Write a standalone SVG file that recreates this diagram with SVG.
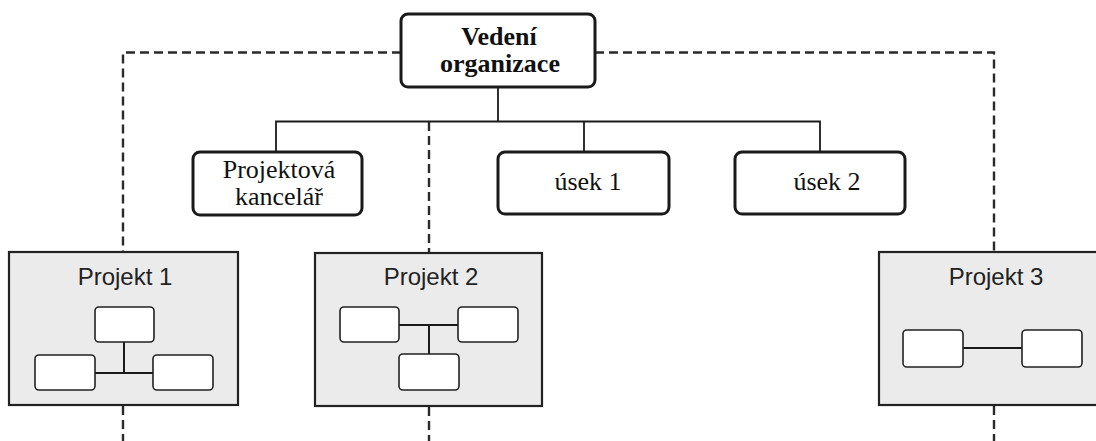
<svg xmlns="http://www.w3.org/2000/svg" width="1096" height="441" viewBox="0 0 1096 441">
  <style>
    .unit { fill: #ffffff; stroke: #1a1a1a; stroke-width: 3; }
    .proj { fill: #ebebeb; stroke: #222222; stroke-width: 2.2; }
    .mini { fill: #ffffff; stroke: #222222; stroke-width: 1.6; }
    .link { fill: none; stroke: #1a1a1a; stroke-width: 1.8; }
    .minilink { fill: none; stroke: #1a1a1a; stroke-width: 2; }
    .dash { fill: none; stroke: #2a2a2a; stroke-width: 2.4; stroke-dasharray: 9 5; }
    .serif { font-family: "Liberation Serif", "Times New Roman", serif; font-size: 26px; fill: #111111; text-anchor: middle; }
    .bold { font-weight: bold; }
    .sans { font-family: "Liberation Sans", Arial, sans-serif; font-size: 24px; fill: #222222; text-anchor: middle; }
  </style>

  <!-- connectors -->
  <g id="connectors">
    <!-- project coordination lines (dashed) -->
    <path class="dash" d="M401 52.5 H123 V252"/>
    <path class="dash" d="M595 52.5 H994 V252"/>
    <path class="dash" d="M429 122 V253"/>
    <path class="dash" d="M123 406 V441"/>
    <path class="dash" d="M429 407 V441"/>
    <path class="dash" d="M994 406 V441"/>
    <!-- line organisation -->
    <path class="link" d="M498 87 V121.5"/>
    <path class="link" d="M276 152 V121.5 H820 V152"/>
    <path class="link" d="M584 121.5 V152"/>
  </g>

  <g id="vedeni">
    <rect class="unit" x="401" y="14" width="194" height="73" rx="7"/>
    <text class="serif bold" x="499" y="45">Vedení</text>
    <text class="serif bold" x="500" y="72">organizace</text>
  </g>

  <g id="kancelar">
    <rect class="unit" x="193" y="152" width="169" height="63" rx="7"/>
    <text class="serif" x="279" y="178">Projektová</text>
    <text class="serif" x="279" y="205">kancelář</text>
  </g>

  <g id="usek1">
    <rect class="unit" x="498" y="152" width="171" height="62" rx="7"/>
    <text class="serif" x="588" y="190">úsek 1</text>
  </g>

  <g id="usek2">
    <rect class="unit" x="735" y="152" width="170" height="62" rx="7"/>
    <text class="serif" x="827" y="190">úsek 2</text>
  </g>

  <g id="projekt1">
    <rect class="proj" x="9" y="252" width="229" height="153"/>
    <text class="sans" x="125" y="285">Projekt 1</text>
    <path class="minilink" d="M124 342 V373 M95 373 H153"/>
    <rect class="mini" x="95" y="307" width="59" height="35" rx="4"/>
    <rect class="mini" x="35" y="355" width="60" height="35" rx="4"/>
    <rect class="mini" x="153" y="355" width="60" height="35" rx="4"/>
  </g>

  <g id="projekt2">
    <rect class="proj" x="315" y="253" width="227" height="153"/>
    <text class="sans" x="431" y="285">Projekt 2</text>
    <path class="minilink" d="M399 325 H458 M429 325 V354"/>
    <rect class="mini" x="340" y="307" width="59" height="35" rx="4"/>
    <rect class="mini" x="458" y="307" width="60" height="35" rx="4"/>
    <rect class="mini" x="399" y="354" width="60" height="36" rx="4"/>
  </g>

  <g id="projekt3">
    <rect class="proj" x="879" y="252" width="222" height="153"/>
    <text class="sans" x="996" y="285">Projekt 3</text>
    <path class="minilink" d="M963 348 H1022"/>
    <rect class="mini" x="903" y="330" width="60" height="37" rx="4"/>
    <rect class="mini" x="1022" y="330" width="60" height="37" rx="4"/>
  </g>
</svg>
